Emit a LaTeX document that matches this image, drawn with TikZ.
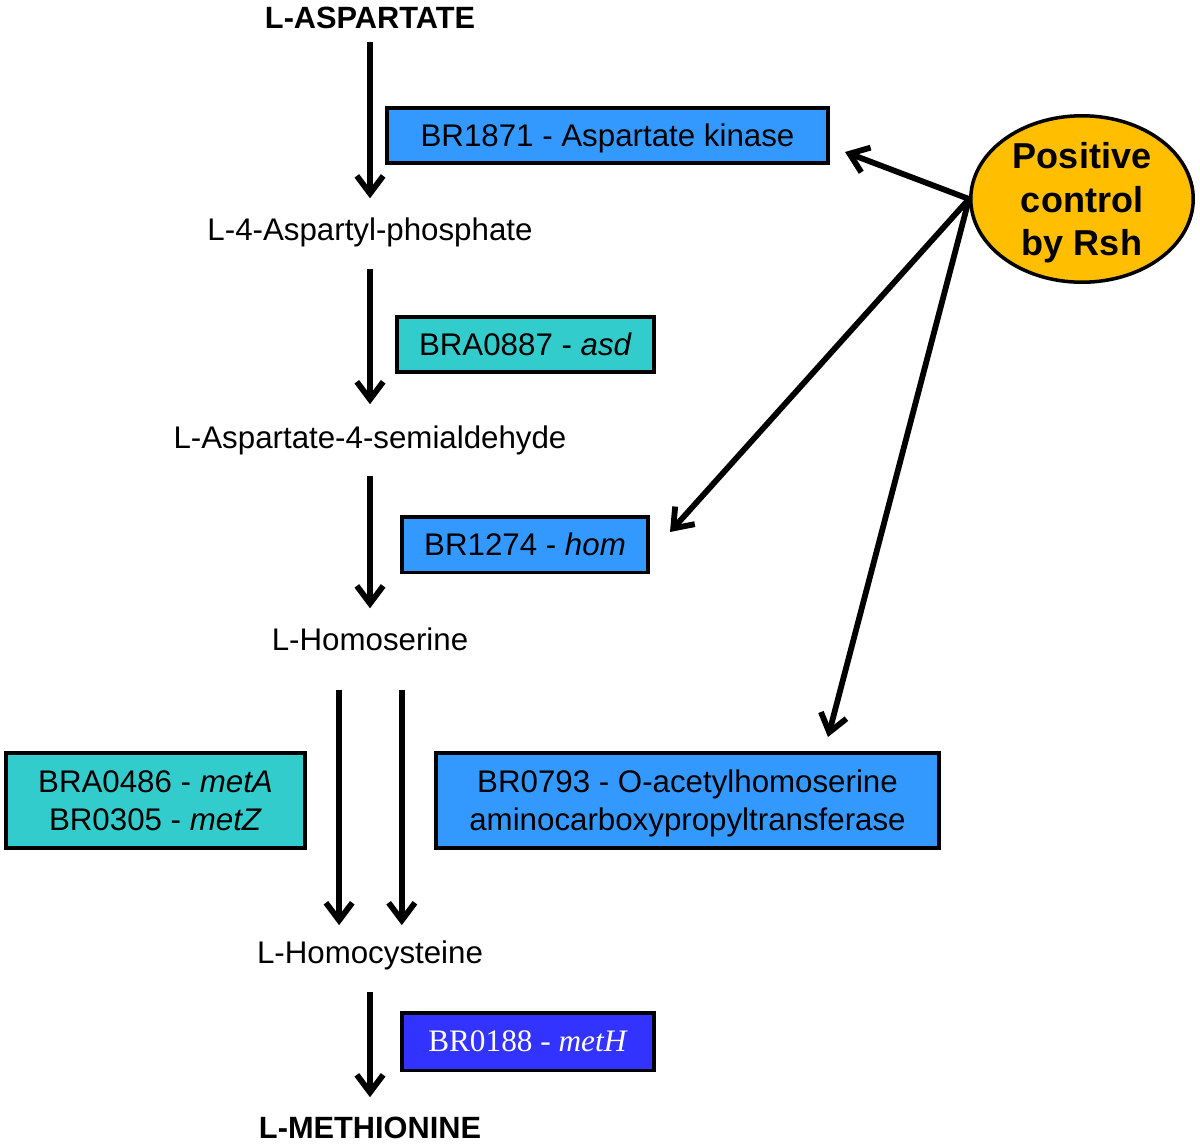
\documentclass[tikz,border=0pt]{standalone}
\usepackage{fontspec}
\setmainfont{Liberation Sans}
\newfontfamily\serifbox{Liberation Serif}
\usetikzlibrary{arrows.meta,shapes.geometric}

\definecolor{enzblue}{RGB}{51,153,255}
\definecolor{enzteal}{RGB}{51,204,204}
\definecolor{enzdark}{RGB}{51,51,255}
\definecolor{rshgold}{RGB}{255,190,0}

\tikzset{
  metab/.style={inner sep=0pt, outer sep=0pt, text height=13pt, text depth=0.5pt, font=\fontsize{17.8}{21.5}\selectfont},
  endpoint/.style={metab, font=\fontsize{17.5}{21}\selectfont\bfseries},
  enzyme/.style={draw, line width=2pt, fill=enzblue, minimum height=1.11cm, align=center, text depth=0pt, font=\fontsize{17.8}{21.5}\selectfont},
  flow/.style={line width=3.3pt, -{Straight Barb[length=10pt,width=15pt]}},
}

\begin{document}
\begin{tikzpicture}[x=0.02cm, y=-0.02cm]
\useasboundingbox (0,0) rectangle (1200,1147);
% metabolites
\node[endpoint] (asp) at (370,18) {L-ASPARTATE};
\node[metab] (p4) at (370,230) {L-4-Aspartyl-phosphate};
\node[metab] (semi) at (370,438) {L-Aspartate-4-semialdehyde};
\node[metab] (hser) at (370,640) {L-Homoserine};
\node[metab] (hcys) at (370,953) {L-Homocysteine};
\node[endpoint] (met) at (370,1127) {L-METHIONINE};
% enzymes
\node[enzyme, minimum width=8.83cm] (ak) at (607.5,135.5) {BR1871 - Aspartate kinase};
\node[enzyme, fill=enzteal, minimum width=5.15cm] (asd) at (525.5,344.5) {BRA0887 - \textit{asd}};
\node[enzyme, minimum width=4.93cm] (hom) at (525,544.5) {BR1274 - \textit{hom}};
\node[enzyme, fill=enzteal, minimum width=5.99cm, minimum height=1.91cm] (metaz) at (155.5,800.5) {BRA0486 - \textit{metA}\\BR0305 - \textit{metZ}};
\node[enzyme, minimum width=10.07cm, minimum height=1.91cm] (oah) at (687.5,800.5) {BR0793 - O-acetylhomoserine\\aminocarboxypropyltransferase};
\node[enzyme, fill=enzdark, text=white, minimum width=5.05cm, minimum height=1.15cm, font=\serifbox\fontsize{17.8}{21.5}\selectfont] (meth) at (528,1041.5) {BR0188 - \textit{metH}};
% regulator
\node[ellipse, draw, line width=2pt, fill=rshgold, minimum width=4.45cm, minimum height=3.33cm, align=center, inner sep=0pt, text depth=0pt, font=\fontsize{20.5}{25}\selectfont\bfseries] (rsh) at (1082,199) {Positive\\control\\by Rsh};
\coordinate (t1) at (845,152);
\coordinate (t3) at (670,532);
\coordinate (t5) at (828,737);
% pathway
\draw[flow, shorten <=6.9pt, shorten >=11.3pt] (asp) -- (p4);
\draw[flow, shorten <=15.3pt, shorten >=12.5pt] (p4) -- (semi);
\draw[flow, shorten <=14.7pt, shorten >=11.3pt] (semi) -- (hser);
\draw[flow, shorten <=21.5pt, shorten >=9.1pt] ([xshift=-17.6pt]hser.south) -- ([xshift=-17.6pt]hcys.north);
\draw[flow, shorten <=21.5pt, shorten >=9.1pt] ([xshift=18.1pt]hser.south) -- ([xshift=18.1pt]hcys.north);
\draw[flow, shorten <=15.3pt, shorten >=10.2pt] (hcys) -- (met);
% control by Rsh
\draw[flow] (rsh.west) -- (t1);
\draw[flow] (rsh.west) -- (t3);
\draw[flow] (rsh.west) -- (t5);
\end{tikzpicture}
\end{document}
